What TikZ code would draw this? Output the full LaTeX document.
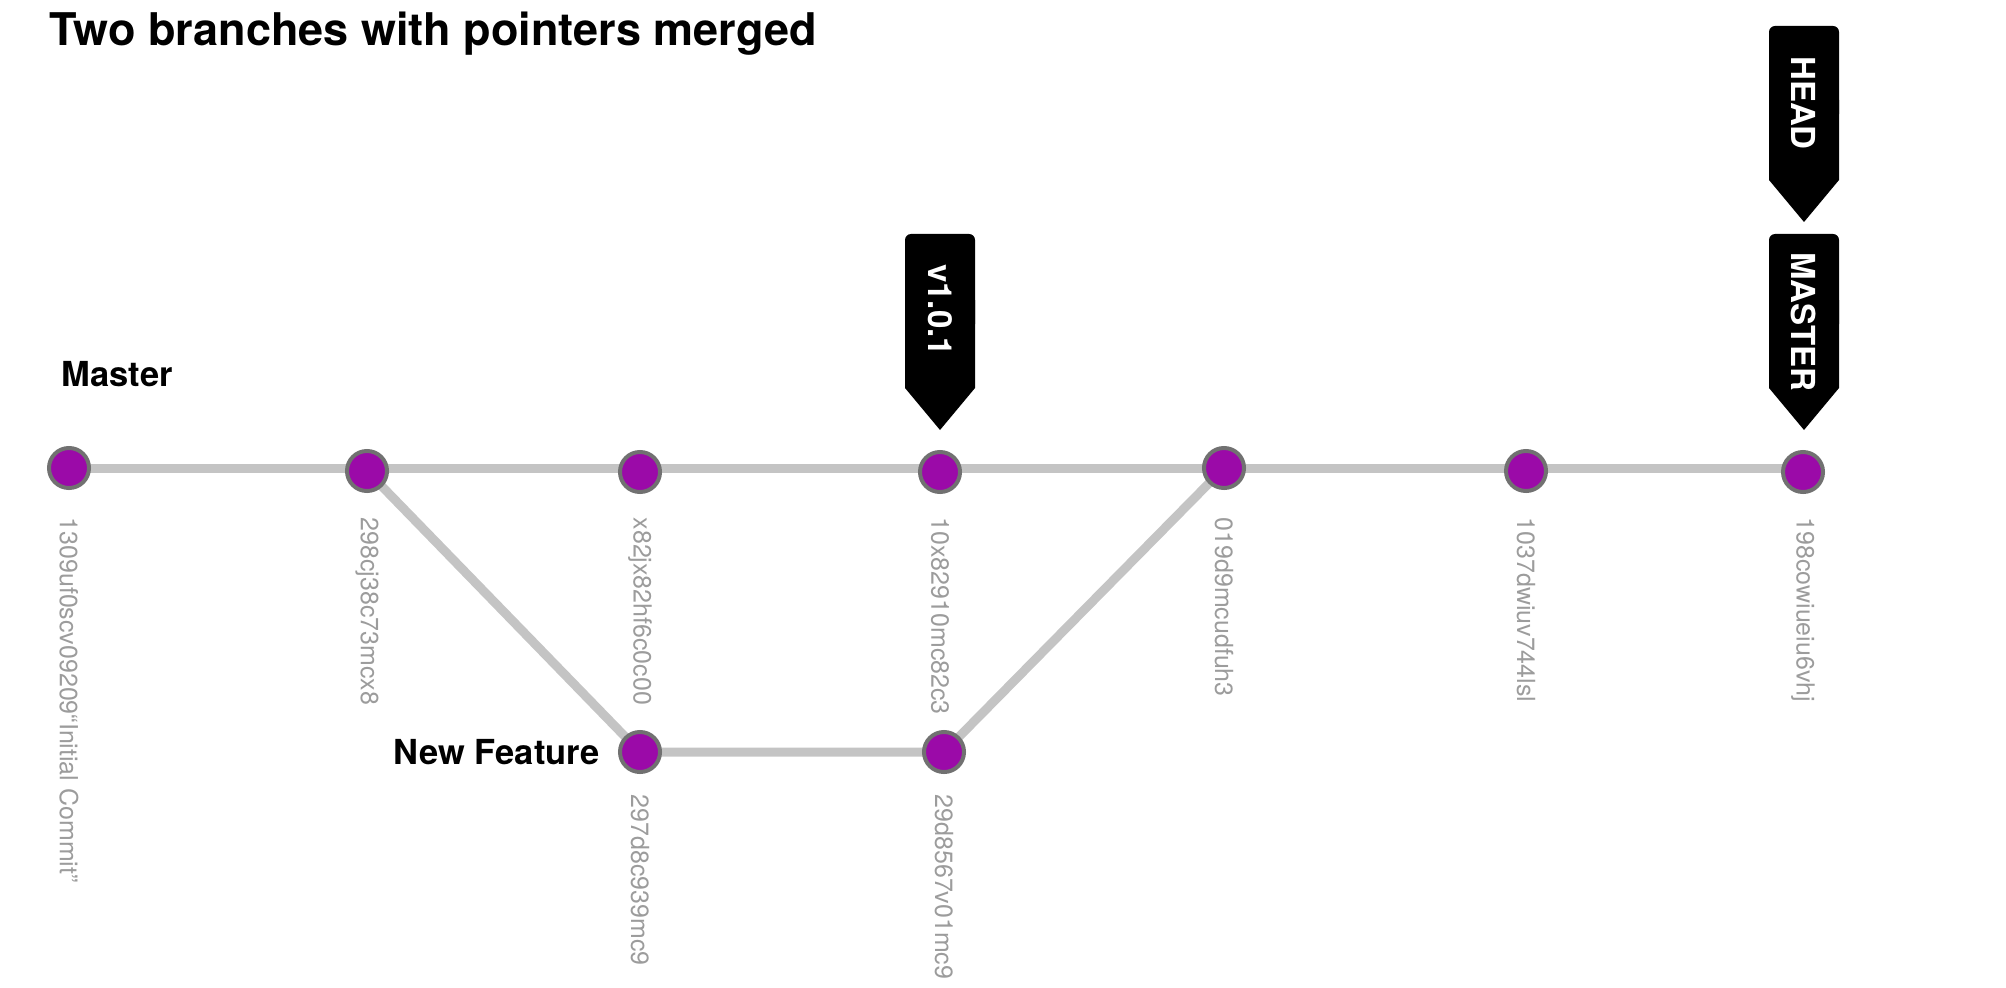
\documentclass[tikz,border=0pt]{standalone}
\usepackage{fontspec}
\setmainfont{TeX Gyre Heros}
\usetikzlibrary{backgrounds}
\definecolor{commitfill}{HTML}{9B0AA8}
\definecolor{commitrim}{HTML}{717171}
\definecolor{branchgray}{HTML}{C4C4C4}
\definecolor{hashgray}{HTML}{9C9C9C}

\begin{document}
\begin{tikzpicture}[x=0.01cm, y=-0.01cm,
    commit/.style={circle, draw=commitrim, fill=commitfill, line width=0.04cm, minimum size=0.4cm, inner sep=0pt},
    branch/.style={draw=branchgray, line width=0.09cm},
    hash/.style={rotate=-90, anchor=west, inner sep=0pt, text=hashgray, font=\fontsize{7.1pt}{8pt}\selectfont},
    heading/.style={inner sep=0pt, font=\bfseries\fontsize{9.8pt}{11pt}\selectfont},
    tagbox/.style={fill=black},
    tagtext/.style={rotate=-90, inner sep=0pt, text=white, font=\bfseries\fontsize{9.4pt}{10pt}\selectfont}]
    \useasboundingbox (0,0) rectangle (2006,988);

    % title
    \node[anchor=base west, inner sep=0pt, font=\bfseries\fontsize{12.8pt}{14pt}\selectfont] (title) at (49,46) {Two branches with pointers merged};

    % commits
    \node[commit] (c1) at (69,468) {};
    \node[commit] (c2) at (367,471) {};
    \node[commit] (c3) at (640,472) {};
    \node[commit] (c4) at (940,472) {};
    \node[commit] (c5) at (640,752) {};
    \node[commit] (c6) at (944,752) {};
    \node[commit] (c7) at (1224,468) {};
    \node[commit] (c8) at (1526,471) {};
    \node[commit] (c9) at (1803,472) {};

    % branch lines
    \begin{pgfonlayer}{background}
        \draw[branch] (c1.center) -- (c1.center -| c9.center);
        \draw[branch] (c2.center) -- (c5.center) -- (c6.center) -- (c7.center);
    \end{pgfonlayer}

    % branch names
    \node[heading, anchor=base west] (master) at (61,386) {Master};
    \node[heading, anchor=base east] (feature) at (600,764) {New Feature};

    % hashes
    \node[hash] (h1) at (69,517) {1309uf0scv09209“Initial Commit”};
    \node[hash] (h2) at (367,517) {298cj38c73mcx8};
    \node[hash] (h3) at (640,517) {x82jx82hf6c0c00};
    \node[hash] (h4) at (940,517) {10x82910mc82c3};
    \node[hash] (h5) at (640,794) {297d8c939mc9};
    \node[hash] (h6) at (944,794) {29d8567v01mc9};
    \node[hash] (h7) at (1224,517) {019d9mcudfuh3};
    \node[hash] (h8) at (1526,517) {1037dwiuv744lsl};
    \node[hash] (h9) at (1803,517) {198cowiueiu6vhj};

    % tags
    \fill[tagbox, rounded corners=1.7pt] (905,234) rectangle (975,330);
    \fill[tagbox] (905,300) -- (975,300) -- (975,388) -- (940,430) -- (905,388) -- cycle;
    \node[tagtext] (v101) at (940,310) {v1.0.1};

    \fill[tagbox, rounded corners=1.7pt] (1769,26) rectangle (1839,120);
    \fill[tagbox] (1769,100) -- (1839,100) -- (1839,180) -- (1804,222) -- (1769,180) -- cycle;
    \node[tagtext] (head) at (1804,103) {HEAD};

    \fill[tagbox, rounded corners=1.7pt] (1769,234) rectangle (1839,330);
    \fill[tagbox] (1769,300) -- (1839,300) -- (1839,388) -- (1804,430) -- (1769,388) -- cycle;
    \node[tagtext] (mastertag) at (1804,322) {MASTER};
\end{tikzpicture}
\end{document}
